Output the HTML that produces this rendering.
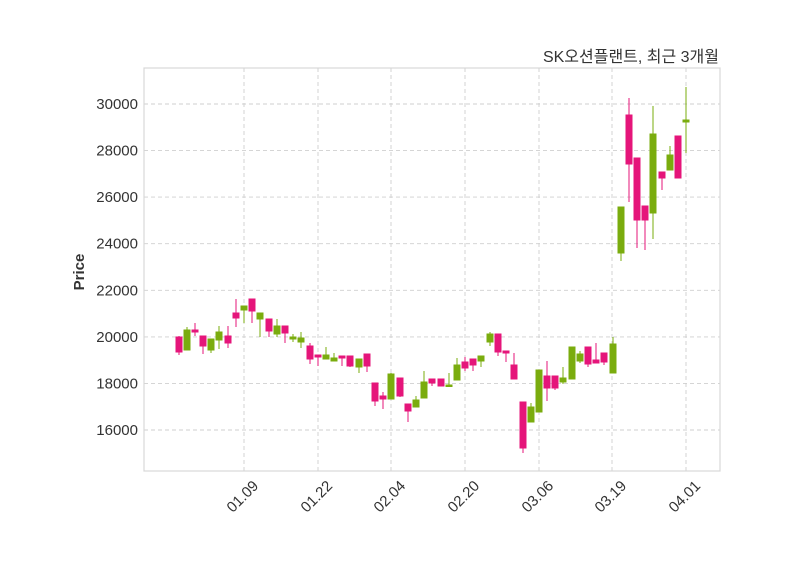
<!DOCTYPE html>
<html><head><meta charset="utf-8"><style>body{margin:0;background:#fff}svg{display:block}</style></head><body>
<svg width="800" height="575" viewBox="0 0 800 575" xmlns="http://www.w3.org/2000/svg" font-family="Liberation Sans, Noto Sans CJK KR, sans-serif">
<rect width="800" height="575" fill="#fff"/>
<g stroke="#cfcfcf" stroke-width="0.9" stroke-dasharray="4,3">
<line x1="144" x2="720" y1="104" y2="104"/><line x1="144" x2="720" y1="150.6" y2="150.6"/><line x1="144" x2="720" y1="197.1" y2="197.1"/><line x1="144" x2="720" y1="243.7" y2="243.7"/><line x1="144" x2="720" y1="290.3" y2="290.3"/><line x1="144" x2="720" y1="336.9" y2="336.9"/><line x1="144" x2="720" y1="383.4" y2="383.4"/><line x1="144" x2="720" y1="430" y2="430"/>
<line y1="68" y2="471" x1="244" x2="244"/><line y1="68" y2="471" x1="318" x2="318"/><line y1="68" y2="471" x1="391" x2="391"/><line y1="68" y2="471" x1="465" x2="465"/><line y1="68" y2="471" x1="539" x2="539"/><line y1="68" y2="471" x1="612" x2="612"/><line y1="68" y2="471" x1="686" x2="686"/>
</g>
<rect x="144" y="68" width="576" height="403" fill="none" stroke="#d8d8d8" stroke-width="1.2"/>
<g stroke="#e5157a" stroke-width="1" fill="#e5157a">
<line x1="179" x2="179" y1="336" y2="355"/><rect x="176" y="337" width="6" height="15"/>
<line x1="195" x2="195" y1="323" y2="336"/><rect x="192" y="330" width="6" height="2"/>
<line x1="203" x2="203" y1="336" y2="354"/><rect x="200" y="336" width="6" height="10"/>
<line x1="228" x2="228" y1="326" y2="348"/><rect x="225" y="336" width="6" height="7"/>
<line x1="236" x2="236" y1="299" y2="327"/><rect x="233" y="313" width="6" height="5"/>
<line x1="252" x2="252" y1="299" y2="323"/><rect x="249" y="299" width="6" height="12"/>
<line x1="269" x2="269" y1="319" y2="337"/><rect x="266" y="319" width="6" height="12"/>
<line x1="285" x2="285" y1="326" y2="343"/><rect x="282" y="326" width="6" height="7"/>
<line x1="310" x2="310" y1="343" y2="364"/><rect x="307" y="346" width="6" height="13"/>
<line x1="318" x2="318" y1="355" y2="366"/><rect x="315" y="355" width="6" height="2"/>
<line x1="342" x2="342" y1="356" y2="366"/><rect x="339" y="356" width="6" height="2"/>
<line x1="350" x2="350" y1="356" y2="367"/><rect x="347" y="356" width="6" height="10"/>
<line x1="367" x2="367" y1="354" y2="372"/><rect x="364" y="354" width="6" height="12"/>
<line x1="375" x2="375" y1="383" y2="406"/><rect x="372" y="383" width="6" height="18"/>
<line x1="383" x2="383" y1="392" y2="409"/><rect x="380" y="396" width="6" height="3"/>
<line x1="400" x2="400" y1="378" y2="397"/><rect x="397" y="378" width="6" height="18"/>
<line x1="408" x2="408" y1="404" y2="422"/><rect x="405" y="404" width="6" height="7"/>
<line x1="432" x2="432" y1="379" y2="386"/><rect x="429" y="379" width="6" height="4"/>
<line x1="441" x2="441" y1="379" y2="386"/><rect x="438" y="379" width="6" height="7"/>
<line x1="465" x2="465" y1="357" y2="371"/><rect x="462" y="362" width="6" height="6"/>
<line x1="473" x2="473" y1="359" y2="371"/><rect x="470" y="359" width="6" height="6"/>
<line x1="498" x2="498" y1="334" y2="356"/><rect x="495" y="334" width="6" height="18"/>
<line x1="506" x2="506" y1="351" y2="362"/><rect x="503" y="351" width="6" height="2"/>
<line x1="514" x2="514" y1="353" y2="379"/><rect x="511" y="365" width="6" height="14"/>
<line x1="523" x2="523" y1="402" y2="453"/><rect x="520" y="402" width="6" height="46"/>
<line x1="547" x2="547" y1="361" y2="401"/><rect x="544" y="376" width="6" height="12"/>
<line x1="555" x2="555" y1="376" y2="390"/><rect x="552" y="376" width="6" height="12"/>
<line x1="588" x2="588" y1="347" y2="367"/><rect x="585" y="347" width="6" height="17"/>
<line x1="596" x2="596" y1="343" y2="363"/><rect x="593" y="360" width="6" height="3"/>
<line x1="604" x2="604" y1="353" y2="365"/><rect x="601" y="353" width="6" height="9"/>
<line x1="629" x2="629" y1="98" y2="202"/><rect x="626" y="115" width="6" height="49"/>
<line x1="637" x2="637" y1="158" y2="248"/><rect x="634" y="158" width="6" height="62"/>
<line x1="645" x2="645" y1="206" y2="250"/><rect x="642" y="206" width="6" height="14"/>
<line x1="662" x2="662" y1="172" y2="190"/><rect x="659" y="172" width="6" height="6"/>
<line x1="678" x2="678" y1="136" y2="178"/><rect x="675" y="136" width="6" height="42"/>
</g>
<g stroke="#7aac0e" stroke-width="1" fill="#7aac0e">
<line x1="187" x2="187" y1="327" y2="350"/><rect x="184" y="330" width="6" height="20"/>
<line x1="211" x2="211" y1="339" y2="353"/><rect x="208" y="339" width="6" height="11"/>
<line x1="219" x2="219" y1="326" y2="349"/><rect x="216" y="332" width="6" height="8"/>
<line x1="244" x2="244" y1="306" y2="323"/><rect x="241" y="306" width="6" height="4"/>
<line x1="260" x2="260" y1="313" y2="337"/><rect x="257" y="313" width="6" height="6"/>
<line x1="277" x2="277" y1="319" y2="337"/><rect x="274" y="326" width="6" height="8"/>
<line x1="293" x2="293" y1="334" y2="342"/><rect x="290" y="337" width="6" height="2"/>
<line x1="301" x2="301" y1="332" y2="348"/><rect x="298" y="338" width="6" height="4"/>
<line x1="326" x2="326" y1="347" y2="359"/><rect x="323" y="355" width="6" height="4"/>
<line x1="334" x2="334" y1="353" y2="361"/><rect x="331" y="358" width="6" height="3"/>
<line x1="359" x2="359" y1="359" y2="373"/><rect x="356" y="359" width="6" height="8"/>
<line x1="391" x2="391" y1="373" y2="399"/><rect x="388" y="374" width="6" height="25"/>
<line x1="416" x2="416" y1="396" y2="407"/><rect x="413" y="400" width="6" height="7"/>
<line x1="424" x2="424" y1="371" y2="398"/><rect x="421" y="382" width="6" height="16"/>
<line x1="449" x2="449" y1="373" y2="386"/><rect x="446" y="385" width="6" height="1.5"/>
<line x1="457" x2="457" y1="358" y2="380"/><rect x="454" y="365" width="6" height="15"/>
<line x1="481" x2="481" y1="356" y2="367"/><rect x="478" y="356" width="6" height="5"/>
<line x1="490" x2="490" y1="332" y2="346"/><rect x="487" y="334" width="6" height="8"/>
<line x1="531" x2="531" y1="403" y2="422"/><rect x="528" y="407" width="6" height="15"/>
<line x1="539" x2="539" y1="370" y2="412"/><rect x="536" y="370" width="6" height="42"/>
<line x1="563" x2="563" y1="367" y2="384"/><rect x="560" y="378" width="6" height="4"/>
<line x1="572" x2="572" y1="347" y2="379"/><rect x="569" y="347" width="6" height="32"/>
<line x1="580" x2="580" y1="351" y2="363"/><rect x="577" y="354" width="6" height="7"/>
<line x1="613" x2="613" y1="337" y2="373"/><rect x="610" y="344" width="6" height="29"/>
<line x1="621" x2="621" y1="207" y2="261"/><rect x="618" y="207" width="6" height="46"/>
<line x1="653" x2="653" y1="106" y2="239"/><rect x="650" y="134" width="6" height="79"/>
<line x1="670" x2="670" y1="146" y2="170"/><rect x="667" y="155" width="6" height="15"/>
<line x1="686" x2="686" y1="87" y2="153"/><rect x="683" y="120" width="6" height="2"/>
</g>
<g font-size="15" fill="#333" text-anchor="end">
<text x="138" y="109">30000</text><text x="138" y="155.6">28000</text><text x="138" y="202.1">26000</text><text x="138" y="248.7">24000</text><text x="138" y="295.3">22000</text><text x="138" y="341.9">20000</text><text x="138" y="388.4">18000</text><text x="138" y="435">16000</text>
</g>
<g font-size="15" fill="#333" text-anchor="middle">
<text transform="translate(246,500) rotate(-45)">01.09</text><text transform="translate(320,500) rotate(-45)">01.22</text><text transform="translate(393,500) rotate(-45)">02.04</text><text transform="translate(467,500) rotate(-45)">02.20</text><text transform="translate(541,500) rotate(-45)">03.06</text><text transform="translate(614,500) rotate(-45)">03.19</text><text transform="translate(688,500) rotate(-45)">04.01</text>
</g>
<text transform="translate(84,272) rotate(-90)" font-size="15" font-weight="bold" fill="#333" text-anchor="middle">Price</text>
<text x="719" y="62" font-size="16" fill="#333" text-anchor="end">SK오션플랜트, 최근 3개월</text>
</svg>
</body></html>
